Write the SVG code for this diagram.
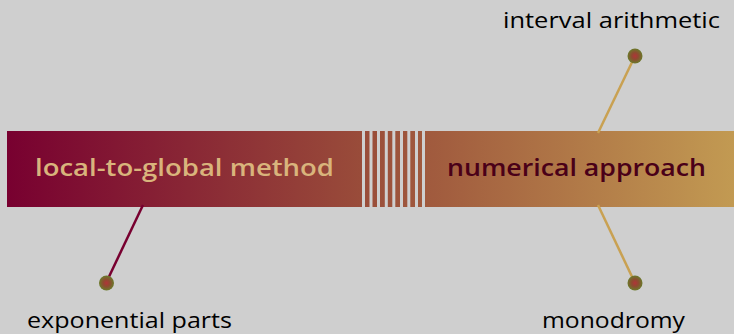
<svg xmlns="http://www.w3.org/2000/svg" width="734" height="334" viewBox="0 0 734 334">
<defs>
<linearGradient id="bar" x1="7" y1="0" x2="734" y2="0" gradientUnits="userSpaceOnUse">
<stop offset="0" stop-color="#780030"/>
<stop offset="0.5" stop-color="#9a4e3a"/>
<stop offset="1" stop-color="#c29a52"/>
</linearGradient>
<radialGradient id="pin">
<stop offset="0" stop-color="#b03538"/>
<stop offset="0.45" stop-color="#8e4a30"/>
<stop offset="1" stop-color="#6a7a2a"/>
</radialGradient>
<style>
.lbl{font-family:"Open Sans","Liberation Sans",sans-serif;font-size:22.5px;fill:#000}
.big{font-family:"Open Sans","Liberation Sans",sans-serif;font-size:24px;font-weight:600}
.gap{fill:#cfcfcf}
</style>
</defs>
<rect width="734" height="334" fill="#cfcfcf"/>
<g id="bar-group">
<rect x="7" y="131" width="727" height="76" fill="url(#bar)"/>
<g class="gap">
<rect x="362" y="131" width="3" height="76"/>
<rect x="369.5" y="131" width="3" height="76"/>
<rect x="377" y="131" width="3" height="76"/>
<rect x="384.8" y="131" width="3" height="76"/>
<rect x="392.3" y="131" width="3" height="76"/>
<rect x="400" y="131" width="3" height="76"/>
<rect x="407.3" y="131" width="3" height="76"/>
<rect x="415" y="131" width="3" height="76"/>
<rect x="422" y="131" width="3" height="76"/>
</g>
</g>
<g id="node-local">
<text class="big" x="35" y="176" textLength="299" lengthAdjust="spacingAndGlyphs" fill="#d9b47c">local-to-global method</text>
</g>
<g id="node-numerical">
<text class="big" x="447" y="176" textLength="259" lengthAdjust="spacingAndGlyphs" fill="#4a0018">numerical approach</text>
</g>
<g id="connectors">
<line x1="143" y1="205" x2="106" y2="283" stroke="#780030" stroke-width="2.5"/>
<line x1="598" y1="133" x2="635" y2="56" stroke="#c9a152" stroke-width="2.5"/>
<line x1="598" y1="205" x2="635" y2="283" stroke="#c9a152" stroke-width="2.5"/>
</g>
<g id="pin-exp">
<circle cx="106.5" cy="283" r="7.5" fill="url(#pin)"/>
<text class="lbl" x="27" y="328" textLength="205" lengthAdjust="spacingAndGlyphs">exponential parts</text>
</g>
<g id="pin-interval">
<circle cx="635" cy="56" r="7.5" fill="url(#pin)"/>
<text class="lbl" x="503" y="28" textLength="217" lengthAdjust="spacingAndGlyphs">interval arithmetic</text>
</g>
<g id="pin-mono">
<circle cx="635" cy="283" r="7.5" fill="url(#pin)"/>
<text class="lbl" x="542" y="328" textLength="143" lengthAdjust="spacingAndGlyphs">monodromy</text>
</g>
</svg>
